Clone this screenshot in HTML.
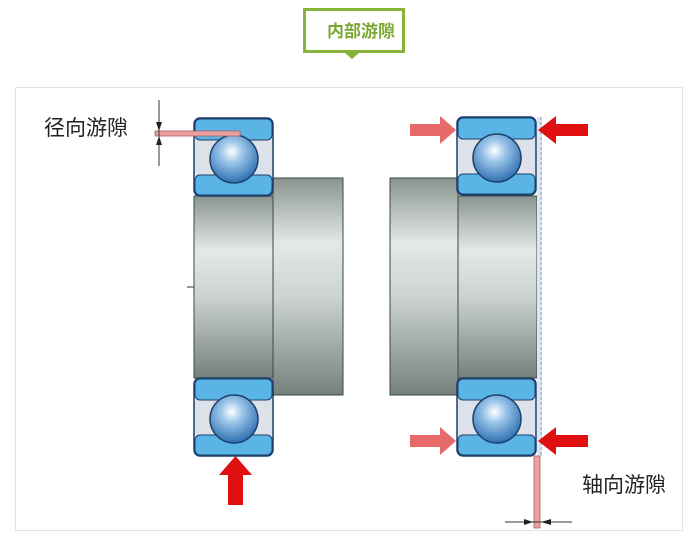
<!DOCTYPE html>
<html><head><meta charset="utf-8"><style>
body{margin:0;background:#fff;width:688px;height:537px;overflow:hidden;font-family:"Liberation Sans","Noto Sans CJK SC",sans-serif}
</style></head><body>
<svg width="688" height="537" viewBox="0 0 688 537" xmlns="http://www.w3.org/2000/svg">
<defs>
<linearGradient id="cyl" x1="0" y1="0" x2="0" y2="1">
<stop offset="0" stop-color="#8a9590"/><stop offset="0.3" stop-color="#e4e8e6"/><stop offset="0.55" stop-color="#cdd4d0"/><stop offset="1" stop-color="#75807c"/></linearGradient>
<radialGradient id="ball" cx="0.45" cy="0.35" r="0.65">
<stop offset="0" stop-color="#ffffff"/><stop offset="0.35" stop-color="#9cc6ea"/><stop offset="1" stop-color="#2e6fb0"/></radialGradient>
<g id="brg">
<rect x="0" y="0" width="79" height="78" rx="6" fill="#dde2ea" stroke="#1d3f6a" stroke-width="1.5"/>
<rect x="1" y="1" width="77" height="21" rx="5" fill="#5bb4e6" stroke="#1d3f6a" stroke-width="1"/>
<rect x="1" y="57" width="77" height="20" rx="5" fill="#5bb4e6" stroke="#1d3f6a" stroke-width="1"/>
<circle cx="40" cy="41" r="24" fill="url(#ball)" stroke="#1d3f6a" stroke-width="1.5"/>
</g>
</defs>
<rect x="15.5" y="87.5" width="667" height="443" fill="#fff" stroke="#e2e2e2"/>
<rect x="304.5" y="9.5" width="99" height="42" fill="#fff" stroke="#86b338" stroke-width="3"/>
<polygon points="345,53 359,53 352,59" fill="#86b338"/>
<text x="327" y="37" font-size="17" font-weight="bold" fill="#7aa832">内部游隙</text>
<rect x="273" y="178" width="70" height="217" fill="url(#cyl)" stroke="#3a4a44"/>
<rect x="194" y="196" width="79" height="182" fill="url(#cyl)" stroke="#3a4a44"/>
<line x1="187" y1="287" x2="194" y2="287" stroke="#333"/>
<use href="#brg" x="194" y="118"/>
<use href="#brg" x="194" y="378"/>
<rect x="155" y="131" width="85" height="5" fill="#e8a0a0" stroke="#b06060" stroke-width="0.8"/>
<line x1="159" y1="100" x2="159" y2="166" stroke="#333"/>
<polygon points="156,122 162,122 159,131" fill="#222"/><polygon points="156,145 162,145 159,136" fill="#222"/>
<text x="44" y="135" font-size="21" fill="#222">径向游隙</text>
<polygon points="228,505 243,505 243,475 252,475 235.5,456 219,475 228,475" fill="#e01010"/>
<rect x="390" y="178" width="68" height="217" fill="url(#cyl)" stroke="#3a4a44"/>
<rect x="458" y="196" width="79" height="182" fill="url(#cyl)" stroke="#3a4a44"/>
<use href="#brg" x="457" y="117"/>
<use href="#brg" x="457" y="378"/>
<rect x="537" y="117" width="5" height="339" fill="#dfe8f2"/>
<line x1="541" y1="117" x2="541" y2="456" stroke="#7aa0c8" stroke-dasharray="3,2"/>
<g fill="#e66a6a">
<polygon points="410,124 440,124 440,116 456,130 440,144 440,136 410,136"/>
<polygon points="410,435 440,435 440,427 456,441 440,455 440,447 410,447"/>
</g>
<g fill="#e01010">
<polygon points="588,124 556,124 556,116 538,130 556,144 556,136 588,136"/>
<polygon points="588,435 556,435 556,427 538,441 556,455 556,447 588,447"/>
</g>
<rect x="534" y="456" width="6" height="72" fill="#e8a0a0" stroke="#b06060" stroke-width="0.8"/>
<line x1="505" y1="522" x2="572" y2="522" stroke="#333"/>
<polygon points="524,519 524,525 533,522" fill="#222"/><polygon points="551,519 551,525 541,522" fill="#222"/>
<text x="582" y="492" font-size="21" fill="#222">轴向游隙</text>
</svg>
</body></html>
